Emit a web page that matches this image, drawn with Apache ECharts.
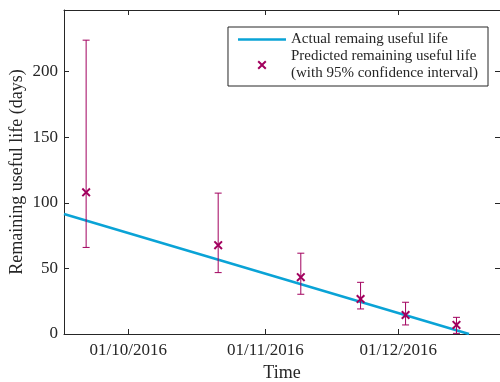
<!DOCTYPE html>
<html>
<head>
<meta charset="utf-8">
<script src="https://cdn.jsdelivr.net/npm/echarts@6/dist/echarts.min.js"></script>
<style>
  html, body { margin: 0; padding: 0; background: #fff; }
  #chart { width: 500px; height: 382px; }
</style>
</head>
<body>
<div id="chart"></div>
<script>
// Actual remaining useful life (straight decline to failure date)
var actualDates = ['2016-09-16 12:00', '2016-12-17 00:00'];
var actualRul = [91.5, 0];

// Predicted remaining useful life with 95% confidence bounds
var predDates = ['2016-09-21 12:00', '2016-10-21 08:00', '2016-11-09 00:00',
                 '2016-11-22 12:00', '2016-12-02 16:00', '2016-12-14 04:00'];
var predRul   = [108, 67.7, 43.3, 26.7, 14.5, 6.9];
var predLower = [66, 46.8, 30.3, 19.1, 6.9, 0.5];
var predUpper = [224, 107.4, 61.6, 39.4, 24.2, 12.7];

// Axis ticks
var xTickDates = ['2016-10-01', '2016-11-01', '2016-12-01'];
var yTicks = [0, 50, 100, 150, 200];

var xMin = '2016-09-16 12:00';
var xMax = '2016-12-24 00:00';

function toTime(s) {
  var m = s.match(/(\d+)-(\d+)-(\d+)(?: (\d+):(\d+))?/);
  return new Date(+m[1], +m[2] - 1, +m[3], +(m[4] || 0), +(m[5] || 0)).getTime();
}

var xTickValues = xTickDates.map(toTime);
var FONT = 'Liberation Serif';
var TEXT = '#262626';
var PURPLE = '#A2005E';
var BLUE = '#0AA3D6';
var CROSS = 'path://M0,1.4L1.4,0L4.5,3.1L7.6,0L9,1.4L5.9,4.5L9,7.6L7.6,9L4.5,5.9L1.4,9L0,7.6L3.1,4.5Z';
var BAR_ICON = 'path://M0,0H48V2.5H0Z';
var PRED_NAME = 'Predicted remaining useful life\n(with 95% confidence interval)';
var ACT_NAME = 'Actual remaing useful life';

var actualData = actualDates.map(function (d, i) { return [toTime(d), actualRul[i]]; });
var predData = predDates.map(function (d, i) { return [toTime(d), predRul[i]]; });
var barData = predDates.map(function (d, i) { return [toTime(d), predLower[i], predUpper[i]]; });

function pad(n) { return (n < 10 ? '0' : '') + n; }
function fmtDate(v) {
  var d = new Date(v);
  return pad(d.getDate()) + '/' + pad(d.getMonth() + 1) + '/' + d.getFullYear();
}

var axisLineStyle = { color: TEXT, width: 1 };

var chart = echarts.init(document.getElementById('chart'), null, { renderer: 'canvas' });
chart.setOption({
  animation: false,
  backgroundColor: '#ffffff',
  textStyle: { fontFamily: FONT, color: TEXT },
  grid: { left: 64, right: 0, top: 10, bottom: 48, containLabel: false, outerBoundsMode: 'none' },
  legend: {
    orient: 'vertical',
    right: 12,
    top: 27,
    itemWidth: 48,
    itemHeight: 9,
    itemGap: 0,
    padding: [4, 10, 4, 10],
    backgroundColor: '#ffffff',
    borderColor: TEXT,
    borderWidth: 1,
    borderRadius: 0,
    textStyle: { fontFamily: FONT, fontSize: 15, color: TEXT, lineHeight: 17 },
    data: [
      { name: ACT_NAME, icon: BAR_ICON, itemStyle: { color: BLUE } },
      { name: PRED_NAME, icon: CROSS }
    ]
  },
  xAxis: [{
    type: 'value',
    position: 'bottom',
    min: toTime(xMin),
    max: toTime(xMax),
    name: 'Time',
    nameLocation: 'middle',
    nameGap: 28,
    nameTextStyle: { fontFamily: FONT, fontSize: 18, color: TEXT },
    axisLine: { onZero: false, lineStyle: axisLineStyle },
    axisTick: { inside: true, length: 5, lineStyle: axisLineStyle, customValues: xTickValues },
    axisLabel: { customValues: xTickValues, formatter: fmtDate, fontFamily: FONT, fontSize: 17, color: TEXT, margin: 8 },
    splitLine: { show: false }
  }, {
    type: 'value',
    position: 'top',
    min: toTime(xMin),
    max: toTime(xMax),
    axisLine: { show: true, onZero: false, lineStyle: axisLineStyle },
    axisTick: { show: true, inside: true, length: 5, lineStyle: axisLineStyle, customValues: xTickValues },
    axisLabel: { show: false },
    splitLine: { show: false }
  }],
  yAxis: [{
    type: 'value',
    position: 'left',
    min: 0,
    max: 247,
    name: 'Remaining useful life (days)',
    nameLocation: 'middle',
    nameGap: 38,
    nameMoveOverlap: false,
    nameTextStyle: { fontFamily: FONT, fontSize: 18, color: TEXT },
    axisLine: { show: true, onZero: false, lineStyle: axisLineStyle },
    axisTick: { show: true, inside: true, length: 5, lineStyle: axisLineStyle, customValues: yTicks },
    axisLabel: { customValues: yTicks, fontFamily: FONT, fontSize: 17, color: TEXT, margin: 6 },
    splitLine: { show: false }
  }, {
    type: 'value',
    position: 'right',
    min: 0,
    max: 247,
    axisLine: { show: true, onZero: false, lineStyle: axisLineStyle },
    axisTick: { show: true, inside: true, length: 5, lineStyle: axisLineStyle, customValues: yTicks },
    axisLabel: { show: false },
    splitLine: { show: false }
  }],
  series: [{
    name: ACT_NAME,
    type: 'line',
    data: actualData,
    symbol: 'none',
    lineStyle: { color: BLUE, width: 2.5 },
    itemStyle: { color: BLUE },
    z: 2
  }, {
    name: 'bounds',
    type: 'custom',
    data: barData,
    encode: { x: 0, y: [1, 2] },
    renderItem: function (params, api) {
      var lo = api.coord([api.value(0), api.value(1)]);
      var hi = api.coord([api.value(0), api.value(2)]);
      var w = 3.5;
      var st = { stroke: PURPLE, lineWidth: 1, fill: null };
      return {
        type: 'group',
        children: [
          { type: 'line', shape: { x1: lo[0], y1: lo[1], x2: hi[0], y2: hi[1] }, style: st },
          { type: 'line', shape: { x1: lo[0] - w, y1: lo[1], x2: lo[0] + w, y2: lo[1] }, style: st },
          { type: 'line', shape: { x1: hi[0] - w, y1: hi[1], x2: hi[0] + w, y2: hi[1] }, style: st }
        ]
      };
    },
    z: 3
  }, {
    name: PRED_NAME,
    type: 'scatter',
    data: predData,
    symbol: CROSS,
    symbolSize: 9,
    itemStyle: { color: PURPLE, opacity: 1 },
    z: 4
  }]
});
</script>
</body>
</html>
